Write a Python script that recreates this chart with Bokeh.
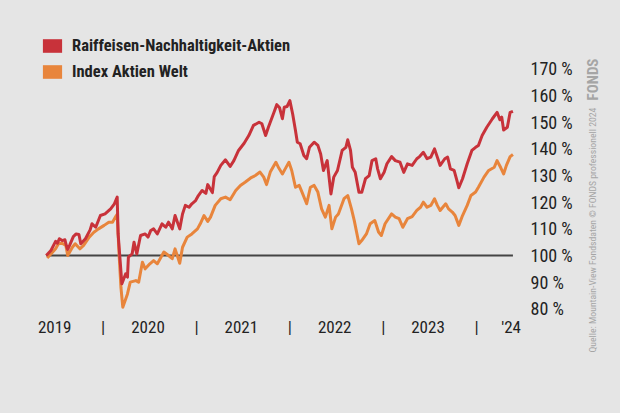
import math
from bokeh.plotting import figure
from bokeh.layouts import row
from bokeh.models import (Range1d, FixedTicker, Legend, LegendItem)
from bokeh.core.properties import value
from bokeh.embed import file_html
from bokeh.resources import INLINE

# ---------------- data (decimal years, index level in %) ----------------
red_dates = [2019.39, 2019.44, 2019.49, 2019.51, 2019.53, 2019.56, 2019.59, 2019.61, 2019.62, 2019.64,
             2019.68, 2019.71, 2019.74, 2019.76, 2019.81, 2019.86, 2019.88, 2019.92, 2019.97, 2020.02,
             2020.08, 2020.12, 2020.15, 2020.16, 2020.20, 2020.24, 2020.26, 2020.27, 2020.31, 2020.33,
             2020.36, 2020.40, 2020.45, 2020.48, 2020.51, 2020.54, 2020.58, 2020.63, 2020.67, 2020.70,
             2020.74, 2020.77, 2020.82, 2020.85, 2020.88, 2020.92, 2020.95, 2020.99, 2021.02, 2021.06,
             2021.10, 2021.12, 2021.17, 2021.19, 2021.22, 2021.26, 2021.31, 2021.36, 2021.40, 2021.45,
             2021.51, 2021.56, 2021.61, 2021.67, 2021.70, 2021.74, 2021.77, 2021.83, 2021.86, 2021.89,
             2021.92, 2021.94, 2021.97, 2022.00, 2022.03, 2022.06, 2022.08, 2022.11, 2022.15, 2022.18,
             2022.21, 2022.26, 2022.30, 2022.33, 2022.36, 2022.40, 2022.44, 2022.47, 2022.51, 2022.56,
             2022.60, 2022.62, 2022.65, 2022.67, 2022.70, 2022.74, 2022.77, 2022.81, 2022.85, 2022.88,
             2022.92, 2022.94, 2022.97, 2023.01, 2023.04, 2023.09, 2023.13, 2023.18, 2023.22, 2023.26,
             2023.31, 2023.36, 2023.39, 2023.43, 2023.47, 2023.51, 2023.55, 2023.58, 2023.61, 2023.66,
             2023.69, 2023.72, 2023.76, 2023.79, 2023.81, 2023.85, 2023.90, 2023.95, 2023.99, 2024.02,
             2024.06, 2024.11, 2024.17, 2024.22, 2024.25, 2024.27, 2024.29, 2024.33, 2024.36, 2024.39]
red_vals = [100.0, 101.9, 105.3, 104.6, 106.3, 105.6, 105.9, 103.1, 102.3, 103.8,
            107.1, 108.1, 107.9, 104.4, 106.3, 109.6, 111.9, 110.6, 115.0, 115.6,
            117.5, 119.4, 121.9, 108.1, 89.4, 93.1, 91.9, 99.4, 100.6, 105.0,
            100.6, 107.5, 108.1, 106.9, 109.4, 110.0, 108.1, 111.9, 110.6, 112.5,
            110.0, 115.0, 110.0, 115.6, 118.8, 118.1, 119.4, 120.6, 122.5, 124.4,
            123.3, 126.6, 123.6, 129.6, 131.1, 133.8, 135.9, 133.4, 135.6, 139.4,
            142.1, 145.0, 148.8, 150.0, 149.4, 145.0, 148.1, 153.7, 156.6, 155.4,
            151.3, 155.6, 155.9, 158.1, 153.1, 146.9, 142.5, 141.9, 137.5, 136.3,
            140.6, 142.5, 141.3, 138.1, 131.9, 135.6, 123.1, 129.4, 131.9, 139.4,
            140.6, 143.4, 139.4, 133.1, 131.2, 123.7, 123.7, 128.8, 130.0, 135.6,
            136.3, 132.5, 128.8, 131.2, 134.4, 137.1, 135.6, 135.0, 131.2, 134.4,
            133.8, 136.3, 137.1, 138.7, 136.3, 136.9, 140.0, 136.9, 133.8, 136.3,
            136.9, 132.5, 131.9, 128.1, 125.4, 128.8, 134.4, 139.4, 140.6, 141.3,
            145.0, 148.1, 151.3, 153.7, 150.9, 151.9, 147.1, 148.1, 153.7, 154.1]

idx_dates = [2019.40, 2019.44, 2019.49, 2019.52, 2019.56, 2019.60, 2019.62, 2019.67, 2019.70, 2019.75,
             2019.79, 2019.85, 2019.90, 2019.95, 2020.01, 2020.06, 2020.10, 2020.13, 2020.15, 2020.17,
             2020.19, 2020.21, 2020.26, 2020.29, 2020.35, 2020.38, 2020.42, 2020.45, 2020.50, 2020.54,
             2020.58, 2020.65, 2020.70, 2020.74, 2020.77, 2020.82, 2020.85, 2020.90, 2020.95, 2021.01,
             2021.04, 2021.08, 2021.12, 2021.15, 2021.20, 2021.26, 2021.31, 2021.36, 2021.42, 2021.47,
             2021.52, 2021.58, 2021.63, 2021.68, 2021.72, 2021.75, 2021.79, 2021.85, 2021.88, 2021.92,
             2021.95, 2021.99, 2022.02, 2022.06, 2022.10, 2022.13, 2022.18, 2022.22, 2022.26, 2022.30,
             2022.34, 2022.38, 2022.42, 2022.45, 2022.49, 2022.52, 2022.58, 2022.62, 2022.66, 2022.69,
             2022.74, 2022.77, 2022.82, 2022.86, 2022.91, 2022.95, 2022.98, 2023.02, 2023.09, 2023.13,
             2023.17, 2023.21, 2023.26, 2023.31, 2023.36, 2023.40, 2023.43, 2023.47, 2023.51, 2023.55,
             2023.58, 2023.61, 2023.67, 2023.70, 2023.74, 2023.77, 2023.81, 2023.85, 2023.90, 2023.94,
             2023.99, 2024.02, 2024.08, 2024.13, 2024.19, 2024.22, 2024.26, 2024.29, 2024.32, 2024.36,
             2024.39]
idx_vals = [99.1, 100.6, 102.5, 104.4, 104.6, 103.8, 100.0, 103.1, 104.4, 102.5,
            103.8, 106.9, 108.7, 110.0, 111.3, 112.5, 112.5, 114.4, 115.4, 100.6,
            88.1, 80.6, 85.6, 90.0, 90.6, 90.0, 97.5, 95.0, 96.9, 98.1,
            96.9, 101.3, 100.0, 98.8, 102.5, 97.1, 103.1, 106.9, 108.1, 110.0,
            111.9, 115.0, 112.8, 114.4, 118.8, 121.3, 121.9, 120.9, 124.4, 126.3,
            127.5, 129.1, 130.0, 131.3, 129.4, 126.6, 131.3, 135.0, 132.9, 130.6,
            132.5, 135.0, 131.9, 125.6, 126.3, 123.8, 119.4, 125.6, 126.3, 123.8,
            117.5, 114.4, 118.8, 110.0, 114.4, 115.6, 121.3, 122.5, 117.5, 113.1,
            104.4, 105.6, 108.1, 111.9, 113.1, 108.8, 107.5, 111.9, 115.6, 114.4,
            113.8, 110.6, 113.8, 114.6, 116.9, 118.1, 120.0, 118.1, 118.8, 121.3,
            118.8, 116.9, 119.4, 117.5, 116.3, 115.0, 111.3, 115.0, 118.8, 122.5,
            123.8, 125.6, 129.4, 131.9, 133.1, 135.6, 132.9, 130.6, 133.8, 137.1,
            137.9]

series_names = ["Raiffeisen-Nachhaltigkeit-Aktien", "Index Aktien Welt"]
baseline_level = 100

x_ticks = [2019.48, 2020.0, 2020.48, 2021.0, 2021.48, 2022.0, 2022.48, 2023.0, 2023.48, 2024.0, 2024.37]
x_labels = ["2019", "|", "2020", "|", "2021", "|", "2022", "|", "2023", "|", "'24"]
y_ticks = [80, 90, 100, 110, 120, 130, 140, 150, 160, 170]
y_labels = ["80 %", "90 %", "100 %", "110 %", "120 %", "130 %", "140 %", "150 %", "160 %", "170 %"]

source_text = "Quelle: Mountain-View Fondsdaten   \u00a9 FONDS professionell 2024"
logo_text = "FONDS"

# ---------------- style ----------------
BG = "#e5e5e5"
RED = "#c8323a"
ORANGE = "#e8853c"
TXT = "#222222"
NOTE = "#a5a5a5"
FONT = "'Liberation Sans Narrow', 'Roboto Condensed', 'DejaVu Sans Condensed', 'Noto Sans', sans-serif"
NAN = float("nan")

TOP = 30  # frame top (px) shared by both figures in the row

p = figure(width=580, height=413, output_backend="svg", toolbar_location=None,
           x_range=Range1d(2019.264, 2024.471), y_range=Range1d(77.5, 184.4),
           y_axis_location="right",
           min_border_left=34, min_border_right=60, min_border_top=TOP, min_border_bottom=98)
p.background_fill_color = BG
p.border_fill_color = BG
p.outline_line_color = None
p.grid.visible = False

# baseline at 100 %
p.line([red_dates[0], red_dates[-1]], [baseline_level, baseline_level], line_color="#444444", line_width=2)

p.line(idx_dates, idx_vals, line_color=ORANGE, line_width=3, line_join="round")
p.line(red_dates, red_vals, line_color=RED, line_width=3, line_join="round")

# legend swatches (quads without visible data)
sq_red = p.quad(left=[NAN], right=[NAN], top=[NAN], bottom=[NAN], fill_color=RED, line_color=None)
sq_org = p.quad(left=[NAN], right=[NAN], top=[NAN], bottom=[NAN], fill_color=ORANGE, line_color=None)
legend = Legend(items=[LegendItem(label=series_names[0], renderers=[sq_red]),
                       LegendItem(label=series_names[1], renderers=[sq_org])],
                location="top_left", margin=6, padding=0, spacing=7,
                glyph_width=24, glyph_height=17, label_height=17, label_standoff=8,
                border_line_color=None, background_fill_alpha=0,
                label_text_font=FONT, label_text_font_style="bold",
                label_text_font_size="16.5px", label_text_color=TXT)
p.add_layout(legend, "center")

# x axis
xa = p.xaxis[0]
xa.ticker = FixedTicker(ticks=x_ticks)
xa.major_label_overrides = {t: l for t, l in zip(x_ticks, x_labels)}
xa.axis_line_color = None
xa.major_tick_line_color = None
xa.minor_tick_line_color = None
xa.major_tick_out = 0
xa.major_tick_in = 0
xa.major_label_standoff = 1
xa.major_label_text_font = FONT
xa.major_label_text_font_size = "17px"
xa.major_label_text_color = TXT

# right y axis
ya = p.yaxis[0]
ya.ticker = FixedTicker(ticks=y_ticks)
ya.major_label_overrides = {t: l for t, l in zip(y_ticks, y_labels)}
ya.axis_line_color = None
ya.major_tick_line_color = None
ya.minor_tick_line_color = None
ya.major_tick_out = 0
ya.major_tick_in = 0
ya.major_label_standoff = 10
ya.major_label_text_font = FONT
ya.major_label_text_font_size = "18px"
ya.major_label_text_color = TXT

# narrow side strip with the vertical source note; its frame runs from TOP to the page bottom,
# 1 data unit = 1 px, y measured upward from the page bottom
STRIP_H = 413 - TOP
s = figure(title=None, frame_width=40, frame_height=STRIP_H, output_backend="svg", toolbar_location=None,
           x_range=Range1d(0, 40), y_range=Range1d(0, STRIP_H),
           min_border=0, x_axis_location=None, y_axis_location=None)
s.background_fill_color = BG
s.border_fill_color = BG
s.outline_line_color = None
s.grid.visible = False
s.text(x=[12], y=[61], text=[source_text], angle=math.pi / 2,
       text_align="left", text_baseline="middle",
       text_font=value(FONT), text_font_size="9.7px", text_color=NOTE)
s.text(x=[12], y=[313], text=[logo_text], angle=math.pi / 2,
       text_align="left", text_baseline="middle",
       text_font=value(FONT), text_font_style="bold", text_font_size="15px", text_color=NOTE)

layout = row(p, s, styles={"background-color": BG})
open("out.html", "w").write(file_html(layout, INLINE))
